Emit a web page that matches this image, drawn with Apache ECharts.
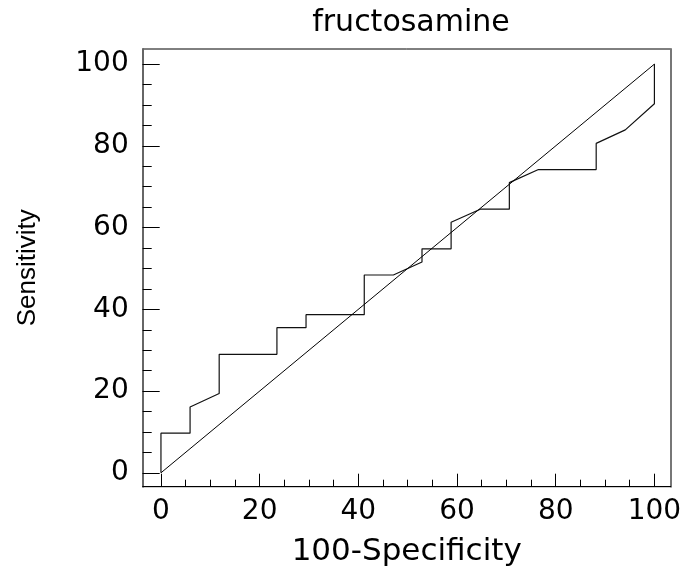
<!DOCTYPE html>
<html>
<head>
<meta charset="utf-8">
<script src="https://cdn.jsdelivr.net/npm/echarts@6/dist/echarts.min.js"></script>
<style>html,body{margin:0;padding:0;background:#fff}#c{width:686px;height:576px}</style>
</head>
<body>
<div id="c"></div>
<script>
const titleText = 'fructosamine';
const xName = '100-Specificity';
const yName = 'Sensitivity';
const majorTicks = [0, 20, 40, 60, 80, 100];
const minorTicks = [0, 5, 10, 15, 20, 25, 30, 35, 40, 45, 50, 55, 60, 65, 70, 75, 80, 85, 90, 95, 100];
const fpr = [0, 0, 5.9, 5.9, 11.8, 11.8, 23.5, 23.5, 29.4, 29.4, 41.2, 41.2, 47.1, 52.9, 52.9, 58.8, 58.8, 64.7, 70.6, 70.6, 76.5, 88.2, 88.2, 94.1, 100, 100];
const tpr = [0, 9.7, 9.7, 16.1, 19.4, 29.0, 29.0, 35.5, 35.5, 38.7, 38.7, 48.4, 48.4, 51.6, 54.8, 54.8, 61.3, 64.5, 64.5, 71.0, 74.2, 74.2, 80.6, 83.9, 90.3, 100];
const refX = [0, 100];
const refY = [0, 100];

const XMIN = -3.7, XMAX = 103.3, YMIN = -3.4, YMAX = 103.7;
const labelFont = { fontFamily: 'DejaVu Sans', fontSize: 28, color: '#000' };

const chart = echarts.init(document.getElementById('c'), null, { renderer: 'canvas' });
chart.setOption({
  animation: false,
  backgroundColor: '#fff',
  title: {
    text: titleText, left: 406, top: 3, textAlign: 'center',
    textStyle: { fontFamily: 'DejaVu Sans', fontSize: 30, fontWeight: 'normal', color: '#000' }
  },
  grid: { left: 142.7, top: 49, right: 15.3, bottom: 89.3, show: true, borderColor: '#000', borderWidth: 1, containLabel: false },
  xAxis: [
    {
      type: 'value', min: XMIN, max: XMAX, position: 'bottom',
      axisLine: { show: true, onZero: false, lineStyle: { color: '#000', width: 1 } },
      axisTick: { show: true, inside: true, length: 13, customValues: majorTicks, lineStyle: { color: '#000', width: 1 } },
      axisLabel: Object.assign({ show: true, customValues: majorTicks, margin: 11 }, labelFont),
      splitLine: { show: false },
      name: xName, nameLocation: 'middle', nameGap: 50,
      nameTextStyle: { fontFamily: 'DejaVu Sans', fontSize: 31, color: '#000' }
    },
    {
      type: 'value', min: XMIN, max: XMAX, position: 'bottom',
      axisLine: { show: false, onZero: false },
      axisTick: { show: true, inside: true, length: 7, customValues: minorTicks, lineStyle: { color: '#000', width: 1 } },
      axisLabel: { show: false },
      splitLine: { show: false }
    }
  ],
  yAxis: [
    {
      type: 'value', min: YMIN, max: YMAX, position: 'left',
      axisLine: { show: true, onZero: false, lineStyle: { color: '#666', width: 2 } },
      axisTick: { show: true, inside: true, length: 17, customValues: majorTicks, lineStyle: { color: '#000', width: 1 } },
      axisLabel: Object.assign({ show: true, customValues: majorTicks, margin: 14 }, labelFont),
      splitLine: { show: false },
      name: yName, nameLocation: 'middle', nameGap: 102, nameRotate: 90,
      nameTextStyle: { fontFamily: 'Liberation Sans', fontSize: 26, color: '#000' }
    },
    {
      type: 'value', min: YMIN, max: YMAX, position: 'left',
      axisLine: { show: false, onZero: false },
      axisTick: { show: true, inside: true, length: 9, customValues: minorTicks, lineStyle: { color: '#000', width: 1 } },
      axisLabel: { show: false },
      splitLine: { show: false }
    },
    {
      type: 'value', min: YMIN, max: YMAX, position: 'right',
      axisLine: { show: true, onZero: false, lineStyle: { color: '#777', width: 2 } },
      axisTick: { show: false }, axisLabel: { show: false }, splitLine: { show: false }
    }
  ],
  series: [
    {
      type: 'line', xAxisIndex: 0, yAxisIndex: 0, showSymbol: false, symbol: 'none',
      data: fpr.map((x, i) => [x, tpr[i]]),
      lineStyle: { color: '#111', width: 1.2 }
    },
    {
      type: 'line', xAxisIndex: 0, yAxisIndex: 0, showSymbol: false, symbol: 'none',
      data: refX.map((x, i) => [x, refY[i]]),
      lineStyle: { color: '#000', width: 1 }
    }
  ]
});
</script>
</body>
</html>
